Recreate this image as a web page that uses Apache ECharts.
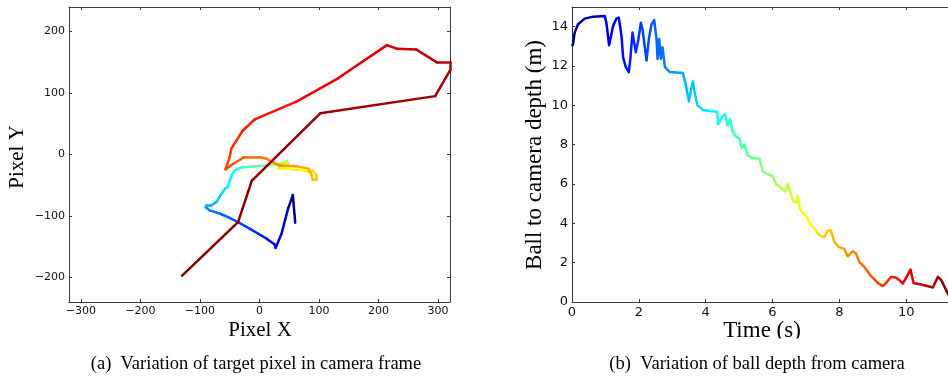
<!DOCTYPE html>
<html><head><meta charset="utf-8">
<script src="https://cdn.jsdelivr.net/npm/echarts@6/dist/echarts.min.js"></script>
<style>html,body{margin:0;padding:0;background:#fff}#c{width:948px;height:377px}</style>
</head><body><div id="c"></div>
<script>
// (a) target pixel trajectory: time (s), pixel X, pixel Y
const pixelT = [0,0.3,0.5,0.8,1.3,1.4,1.6,1.8,2.0,2.2,2.4,2.6,2.8,3.0,3.2,3.3,3.5,3.8,3.9,4.0,4.3,4.5,4.8,5.2,5.6,6.0,6.3,6.4,6.6,6.7,6.8,7.1,7.3,7.4,7.6,7.7,7.8,7.9,8.0,8.1,8.3,8.5,8.6,8.8,9.0,9.1,9.2,9.3,9.5,9.6,9.9,10.1,10.3,10.4,10.5,10.6,10.7,10.8,10.9,11.0,11.1,11.2,11.3];
const pixelX = [60,56,48,37,27,25,12,-2,-16,-36,-53,-67,-84,-90,-89,-81,-72,-64,-58,-53,-47,-42,-30,-11,12,34,46,48,31,31,45,73,82,89,96,96,89,88,82,62,34,12,0,-25,-44,-57,-50,-47,-28,-8,62,132,214,231,263,298,320,320,295,102,-13,-36,-130];
const pixelY = [-111,-66,-88,-129,-152,-146,-137,-129,-121,-110,-102,-96,-91,-86,-83,-83,-77,-64,-56,-53,-34,-26,-21,-19,-18,-15,-11,-15,-19,-23,-23,-26,-28,-26,-34,-41,-41,-34,-23,-19,-18,-7,-4,-4,-15,-24,-4,10,39,57,86,124,178,172,171,150,150,137,95,67,-43,-110,-197];

// (b) ball depth vs time
const depthT = [0,0.03,0.08,0.18,0.38,0.63,0.98,1.03,1.11,1.23,1.33,1.40,1.48,1.53,1.61,1.70,1.75,1.81,1.85,1.91,1.98,2.06,2.11,2.18,2.23,2.30,2.38,2.46,2.53,2.56,2.61,2.66,2.71,2.78,2.93,3.32,3.40,3.50,3.57,3.62,3.67,3.75,3.92,4.12,4.34,4.38,4.51,4.58,4.66,4.73,4.81,4.91,5.01,5.08,5.16,5.26,5.41,5.61,5.71,5.86,6.01,6.11,6.26,6.38,6.46,6.54,6.61,6.71,6.76,6.81,6.91,7.01,7.11,7.26,7.41,7.55,7.65,7.75,7.85,8.00,8.15,8.25,8.40,8.50,8.60,8.75,8.95,9.15,9.30,9.40,9.55,9.70,9.80,9.90,10.00,10.13,10.22,10.45,10.80,10.95,11.05,11.30];
const depthM = [13.0,13.11,13.7,14.12,14.41,14.51,14.54,14.2,13.06,14.04,14.41,14.46,13.54,12.44,11.94,11.69,12.44,13.7,13.79,12.7,13.28,14.2,13.87,12.95,12.28,13.37,14.12,14.34,13.37,12.36,13.37,12.36,12.95,11.94,11.69,11.64,11.1,10.21,10.85,11.22,10.68,10.01,9.76,9.71,9.67,9.03,9.45,9.55,8.97,9.3,8.66,8.41,8.33,7.83,8.0,7.45,7.32,7.29,6.65,6.48,6.40,5.98,5.81,5.61,6.0,5.56,5.14,5.05,5.4,4.80,4.47,4.38,4.0,3.71,3.38,3.29,3.63,3.63,3.04,2.79,2.70,2.32,2.59,2.45,2.03,1.78,1.31,0.97,0.81,0.97,1.28,1.23,1.11,0.94,1.24,1.65,0.97,0.89,0.74,1.28,1.11,0.25];

// tick labels
const ticksPX = [-300,-200,-100,0,100,200,300];
const ticksPY = [-200,-100,0,100,200];
const ticksT = [0,2,4,6,8,10,12];
const ticksD = [0,2,4,6,8,10,12,14];

const T_MAX = 11.3;
const jetStops = ['#00007f','#0000ff','#007fff','#00ffff','#7fff7f','#ffff00','#ff7f00','#ff0000','#7f0000'];
function jet(f){
  f = Math.max(0, Math.min(1, f));
  const c = v => Math.round(255 * Math.max(0, Math.min(1, v)));
  return 'rgb(' + c(1.5 - Math.abs(4*f - 3)) + ',' + c(1.5 - Math.abs(4*f - 2)) + ',' + c(1.5 - Math.abs(4*f - 1)) + ')';
}

const segs = [];
for (let i = 0; i + 1 < pixelX.length; i++) {
  segs.push({
    coords: [[pixelX[i], pixelY[i]], [pixelX[i+1], pixelY[i+1]]],
    lineStyle: { color: jet((pixelT[i] + pixelT[i+1]) / 2 / T_MAX) }
  });
}
const depthData = depthT.map((t, i) => [t, depthM[i]]);

const AX = '#3a3a3a';
const TICKFONT = 'DejaVu Sans';
const minus = v => (v < 0 ? '\u2212' + (-v) : '' + v);

function axis(extra, values, labelSize, showLabel){
  return Object.assign({
    type: 'value',
    axisLine: { show: true, onZero: false, lineStyle: { color: AX, width: 1 } },
    axisTick: { show: true, inside: true, length: 3, customValues: values, lineStyle: { color: AX, width: 1 } },
    axisLabel: { show: showLabel, customValues: values, formatter: minus, fontFamily: TICKFONT, fontSize: labelSize, color: '#111', margin: 4 },
    splitLine: { show: false }
  }, extra);
}

const chart = echarts.init(document.getElementById('c'), null, { renderer: 'canvas' });
chart.setOption({
  animation: false,
  backgroundColor: '#fff',
  grid: [
    { left: 69, top: 7, width: 381, height: 295, outerBoundsMode: 'none', containLabel: false },
    { left: 572, top: 7, width: 401, height: 295, outerBoundsMode: 'none', containLabel: false }
  ],
  xAxis: [
    axis({ gridIndex: 0, position: 'bottom', min: -320, max: 320 }, ticksPX, 11, true),
    axis({ gridIndex: 0, position: 'top', min: -320, max: 320 }, ticksPX, 11, false),
    axis({ gridIndex: 1, position: 'bottom', min: 0, max: 12 }, ticksT, 13, true),
    axis({ gridIndex: 1, position: 'top', min: 0, max: 12 }, ticksT, 13, false)
  ],
  yAxis: [
    axis({ gridIndex: 0, position: 'left', min: -240, max: 240 }, ticksPY, 11, true),
    axis({ gridIndex: 0, position: 'right', min: -240, max: 240 }, ticksPY, 11, false),
    axis({ gridIndex: 1, position: 'left', min: 0, max: 15 }, ticksD, 13, true),
    axis({ gridIndex: 1, position: 'right', min: 0, max: 15 }, ticksD, 13, false)
  ],
  visualMap: [{
    type: 'continuous', show: false, seriesIndex: 1, dimension: 0,
    min: 0, max: T_MAX, inRange: { color: jetStops }
  }],
  series: [
    {
      type: 'lines', coordinateSystem: 'cartesian2d', xAxisIndex: 0, yAxisIndex: 0,
      polyline: false, silent: true,
      lineStyle: { width: 2.5, opacity: 1, cap: 'round', join: 'round' },
      data: segs
    },
    {
      type: 'line', xAxisIndex: 2, yAxisIndex: 2, showSymbol: false, silent: true,
      lineStyle: { width: 2.5, join: 'round' },
      data: depthData
    }
  ],
  graphic: [
    { type: 'text', x: 260, y: 330, style: { text: 'Pixel X', font: '21px "Liberation Serif"', fill: '#000', textAlign: 'center', textVerticalAlign: 'middle' } },
    { type: 'text', x: 17, y: 157, rotation: Math.PI / 2, style: { text: 'Pixel Y', font: '21px "Liberation Serif"', fill: '#000', textAlign: 'center', textVerticalAlign: 'middle' } },
    { type: 'text', x: 762, y: 331, style: { text: 'Time (s)', font: '23px "Liberation Serif"', fill: '#000', textAlign: 'center', textVerticalAlign: 'middle' } },
    { type: 'rect', z: 100, shape: { x: 700, y: 338.5, width: 130, height: 14 }, style: { fill: '#fff' } },
    { type: 'text', x: 535, y: 155, rotation: Math.PI / 2, style: { text: 'Ball to camera depth (m)', font: '23px "Liberation Serif"', fill: '#000', textAlign: 'center', textVerticalAlign: 'middle' } },
    { type: 'text', x: 256, y: 364, style: { text: '(a)  Variation of target pixel in camera frame', font: '18.5px "Liberation Serif"', fill: '#000', textAlign: 'center', textVerticalAlign: 'middle' } },
    { type: 'text', x: 757, y: 364, style: { text: '(b)  Variation of ball depth from camera', font: '18.5px "Liberation Serif"', fill: '#000', textAlign: 'center', textVerticalAlign: 'middle' } }
  ]
});
</script></body></html>
